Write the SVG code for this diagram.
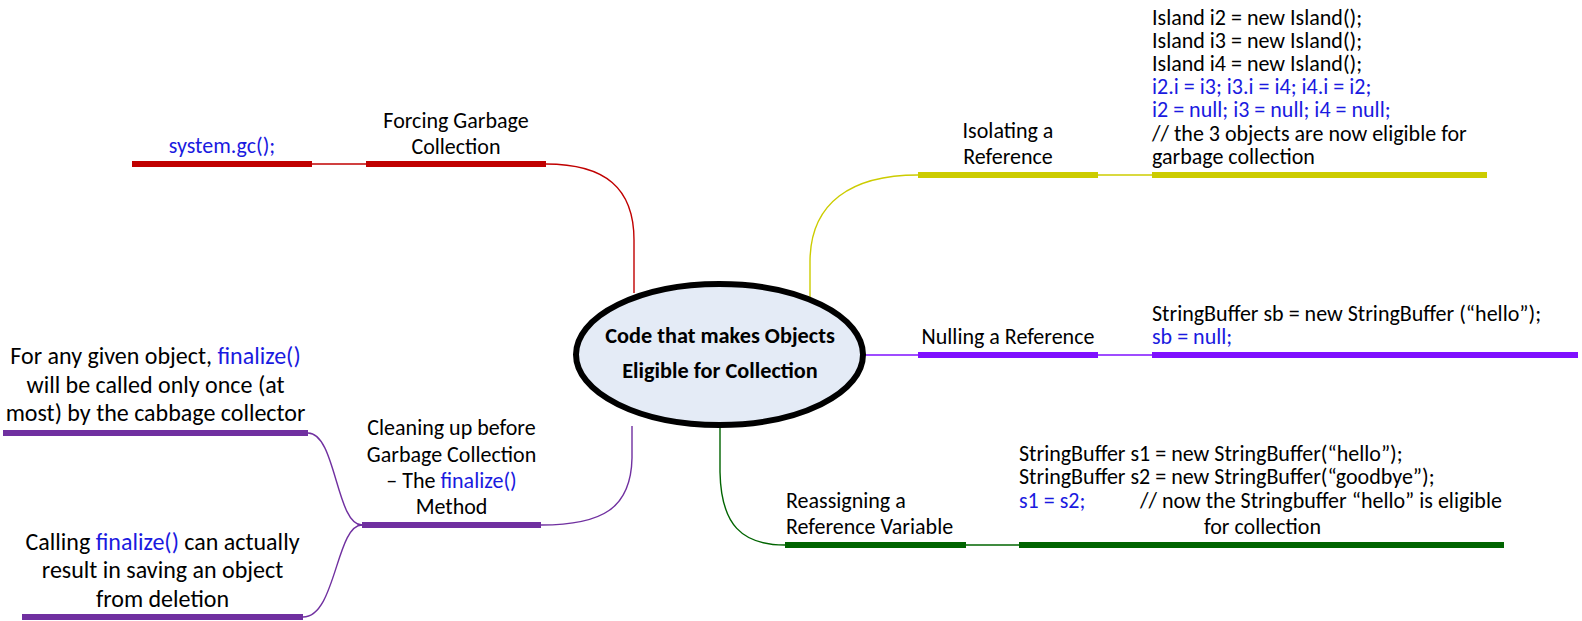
<svg xmlns="http://www.w3.org/2000/svg" width="1582" height="621" viewBox="0 0 1582 621">
<style>
text{font-family:Carlito,Lato,"Liberation Sans",sans-serif;font-size:22px;fill:#000}
.big{font-size:24px}
.c{text-anchor:middle}
.b{fill:#1a1ae0}
.title{font-weight:bold;font-size:22.3px}
.bar{stroke-width:6;fill:none}
.thin{stroke-width:1.4;fill:none}
.red{stroke:#c00000}
.yel{stroke:#cccc00}
.vio{stroke:#7f10ff}
.grn{stroke:#006400}
.pur{stroke:#7030a0}
</style>
<rect width="1582" height="621" fill="#fff"/>
<g id="connectors">
<path class="thin red" d="M546,164 C605,164 634,188 634,240 L634,293"/>
<path class="thin red" d="M312,164 L366,164"/>
<path class="thin yel" d="M918,175 C852,175 810,202 810,262 L810,298"/>
<path class="thin yel" d="M1098,175 L1152,175"/>
<path class="thin vio" d="M864,355 L918,355"/>
<path class="thin vio" d="M1098,355 L1152,355"/>
<path class="thin grn" d="M720,427 L720,472 C721,525 742,545 785,545"/>
<path class="thin grn" d="M966,545 L1019,545"/>
<path class="thin pur" d="M632,426 L632,458 C631,508 603,525 541,525"/>
<path class="thin pur" d="M362,525 C336,525 336,433 308,433"/>
<path class="thin pur" d="M362,525 C336,525 336,617 303,617"/>
</g>
<g id="center">
<ellipse cx="719.5" cy="354.5" rx="143.5" ry="70.5" fill="#e4ebf6" stroke="#000" stroke-width="6"/>
<text class="title c" x="720" y="343">Code that makes Objects</text>
<text class="title c" x="720" y="378">Eligible for Collection</text>
</g>
<g id="forcing">
<line class="bar red" x1="366" y1="164" x2="546" y2="164"/>
<text class="c" x="456" y="128">Forcing Garbage</text>
<text class="c" x="456" y="154">Collection</text>
</g>
<g id="systemgc">
<line class="bar red" x1="132" y1="164" x2="312" y2="164"/>
<text class="c b" x="222" y="153">system.gc();</text>
</g>
<g id="isolating">
<line class="bar yel" x1="918" y1="175" x2="1098" y2="175"/>
<text class="c" x="1008" y="138">Isolating a</text>
<text class="c" x="1008" y="164">Reference</text>
</g>
<g id="island-code">
<line class="bar yel" x1="1152" y1="175" x2="1487" y2="175"/>
<text x="1152" y="25">Island i2 = new Island();<tspan x="1152" y="48">Island i3 = new Island();</tspan><tspan x="1152" y="71">Island i4 = new Island();</tspan><tspan class="b" x="1152" y="94">i2.i = i3; i3.i = i4; i4.i = i2;</tspan><tspan class="b" x="1152" y="117">i2 = null; i3 = null; i4 = null;</tspan><tspan x="1152" y="140.5">// the 3 objects are now eligible for</tspan><tspan x="1152" y="164">garbage collection</tspan></text>
</g>
<g id="nulling">
<line class="bar vio" x1="918" y1="355" x2="1098" y2="355"/>
<text class="c" x="1008" y="344">Nulling a Reference</text>
</g>
<g id="nulling-code">
<line class="bar vio" x1="1152" y1="355" x2="1578" y2="355"/>
<text x="1152" y="321">StringBuffer sb = new StringBuffer (“hello”);<tspan class="b" x="1152" y="344">sb = null;</tspan></text>
</g>
<g id="reassigning">
<line class="bar grn" x1="785" y1="545" x2="966" y2="545"/>
<text x="786" y="508">Reassigning a</text>
<text x="786" y="534">Reference Variable</text>
</g>
<g id="reassign-code">
<line class="bar grn" x1="1019" y1="545" x2="1504" y2="545"/>
<text x="1019" y="461">StringBuffer s1 = new StringBuffer(“hello”);<tspan x="1019" y="484">StringBuffer s2 = new StringBuffer(“goodbye”);</tspan><tspan class="b" x="1019" y="508">s1 = s2;</tspan><tspan x="1140" y="508">// now the Stringbuffer “hello” is eligible</tspan><tspan x="1204" y="534">for collection</tspan></text>
</g>
<g id="cleaning">
<line class="bar pur" x1="362" y1="525" x2="541" y2="525"/>
<text class="c" x="451.5" y="435">Cleaning up before</text>
<text class="c" x="451.5" y="462">Garbage Collection</text>
<text class="c" x="451.5" y="488">– The <tspan class="b">finalize()</tspan></text>
<text class="c" x="451.5" y="514">Method</text>
</g>
<g id="finalize-once">
<line class="bar pur" x1="3" y1="433" x2="308" y2="433"/>
<text class="c big" x="155.5" y="364">For any given object, <tspan class="b">finalize()</tspan></text>
<text class="c big" x="155.5" y="393">will be called only once (at</text>
<text class="c big" x="155.5" y="421">most) by the cabbage collector</text>
</g>
<g id="finalize-save">
<line class="bar pur" x1="22" y1="617" x2="303" y2="617"/>
<text class="c big" x="162.5" y="550">Calling <tspan class="b">finalize()</tspan> can actually</text>
<text class="c big" x="162.5" y="578">result in saving an object</text>
<text class="c big" x="162.5" y="607">from deletion</text>
</g>
</svg>
